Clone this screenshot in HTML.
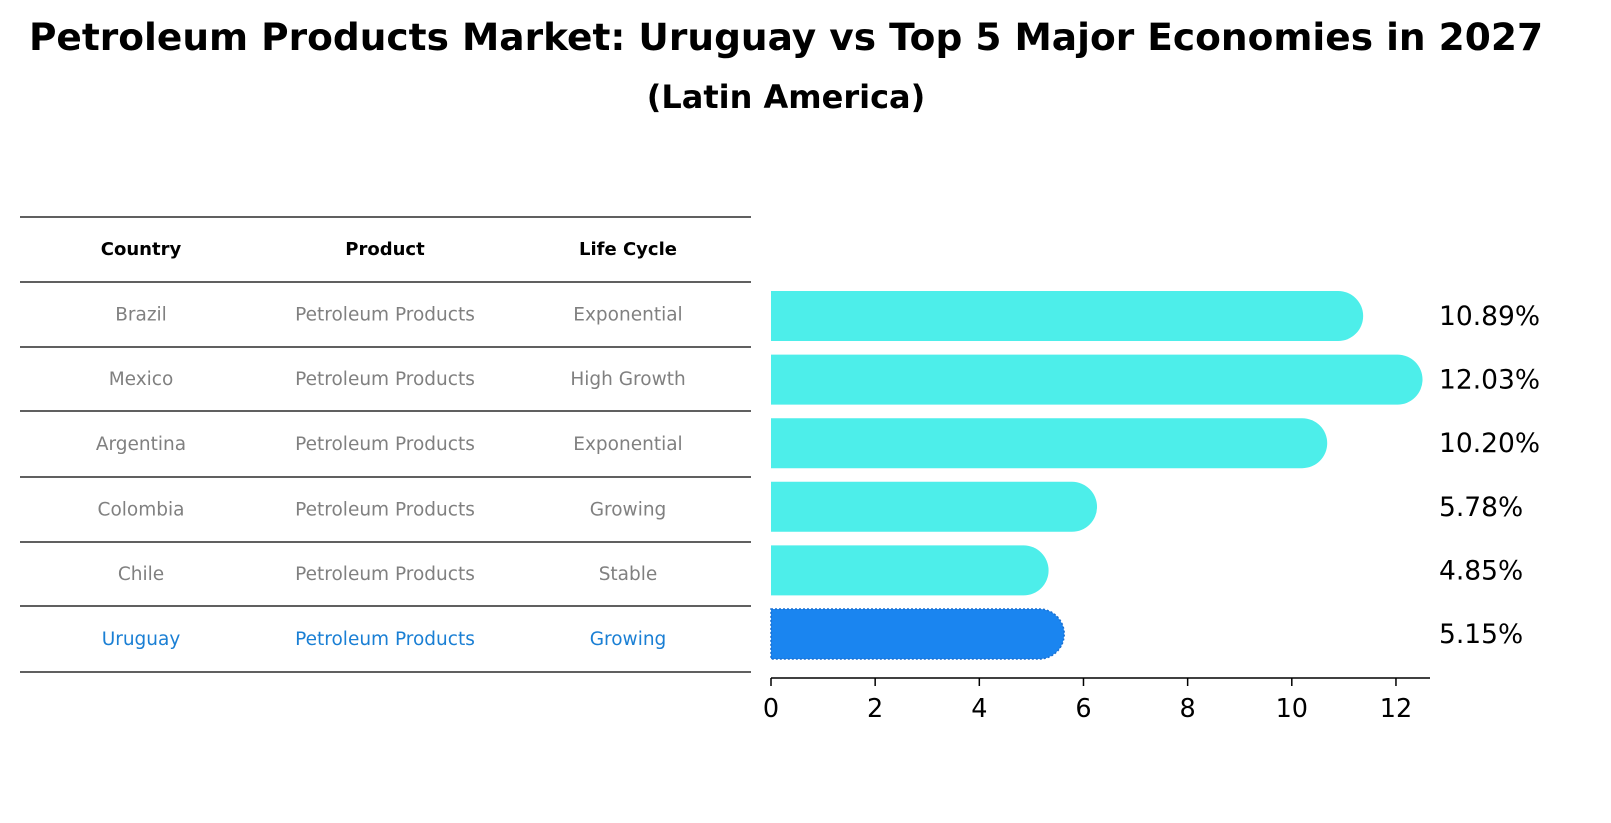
<!DOCTYPE html>
<html><head><meta charset="utf-8"><style>
body{margin:0;background:#fff;font-family:"DejaVu Sans","Liberation Sans",sans-serif;}
#wrap{position:relative;width:1611px;height:823px;overflow:hidden;}
</style></head><body>
<div id="wrap">
<svg id="svg" width="1611" height="823" xmlns="http://www.w3.org/2000/svg" font-family="DejaVu Sans, Liberation Sans, sans-serif">
<text x="786" y="50" text-anchor="middle" font-size="37.5" font-weight="bold">Petroleum Products Market: Uruguay vs Top 5 Major Economies in 2027</text>
<text x="786" y="108" text-anchor="middle" font-size="32" font-weight="bold">(Latin America)</text>
<g id="table"></g>
<g id="bars"></g>
</svg>
</div>
<script>
const countries=["Brazil","Mexico","Argentina","Colombia","Chile","Uruguay"];
const products=["Petroleum Products","Petroleum Products","Petroleum Products","Petroleum Products","Petroleum Products","Petroleum Products"];
const lifecycles=["Exponential","High Growth","Exponential","Growing","Stable","Growing"];
const values=[10.89,12.03,10.20,5.78,4.85,5.15];
const valueLabels=["10.89%","12.03%","10.20%","5.78%","4.85%","5.15%"];
const ticks=[0,2,4,6,8,10,12];
const NS="http://www.w3.org/2000/svg";
function mk(t,a,p){const e=document.createElementNS(NS,t);for(const k in a)e.setAttribute(k,a[k]);p.appendChild(e);return e;}
const tbl=document.getElementById('table'), bars=document.getElementById('bars');
const xS=v=>771+v*52.08;
const rowY=i=>316+i*63.6;
const lines=[217,282,347,411,477,542,606,672];
lines.forEach((y,i)=>{const l=mk('line',{x1:20,x2:751,y1:y,y2:y,stroke:'#000','stroke-width':1.2},tbl);

});
const cx=[141,385,628];
["Country","Product","Life Cycle"].forEach((h,j)=>{const t=mk('text',{x:cx[j],y:255,'text-anchor':'middle','font-size':18,'font-weight':'bold'},tbl);t.textContent=h;

});
countries.forEach((c,i)=>{const y=(lines[i+1]+lines[i+2])/2+6;const col=i===5?'#1a7fd4':'#808080';
[c,products[i],lifecycles[i]].forEach((v,j)=>{const t=mk('text',{x:cx[j],y:y,'text-anchor':'middle','font-size':18.5,fill:col},tbl);t.textContent=v;

});});
values.forEach((v,i)=>{const y=rowY(i),h=50,r=25,x0=xS(0),x1=xS(v);
const d=`M${x0},${y-h/2} L${x1},${y-h/2} A${r},${r} 0 0 1 ${x1},${y+h/2} L${x0},${y+h/2} Z`;
const attrs={d:d,fill:i===5?'#1a85f0':'#4deeea'};
if(i===5){attrs.stroke='#1a6fd0';attrs['stroke-dasharray']='2,2';attrs['stroke-width']=1.5;}
const p=mk('path',attrs,bars);


const t=mk('text',{x:1439,y:y+9,'font-size':26.5},bars);t.textContent=valueLabels[i];

});
const ax=mk('line',{x1:771,x2:1430,y1:678,y2:678,stroke:'#000','stroke-width':1.5},bars);


ticks.forEach(v=>{const x=xS(v);mk('line',{x1:x,x2:x,y1:678,y2:686,stroke:'#000','stroke-width':1.5},bars);
const t=mk('text',{x:x,y:717,'text-anchor':'middle','font-size':25.5},bars);t.textContent=v;

});
</script>
</body></html>
